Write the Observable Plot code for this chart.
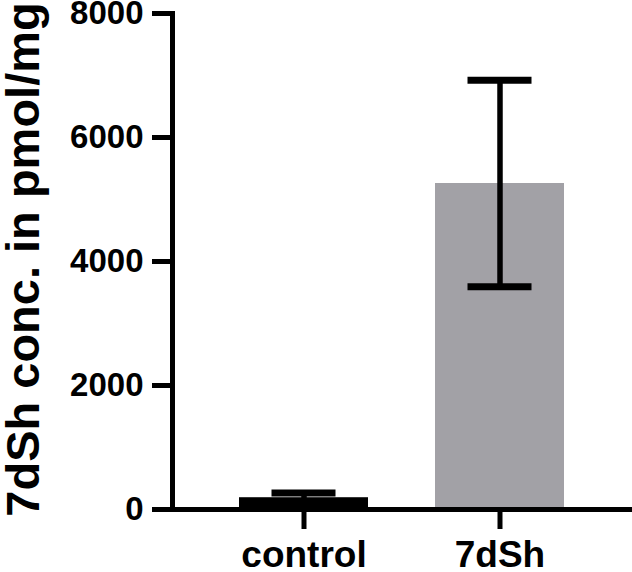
<!DOCTYPE html>
<html>
<head>
<meta charset="utf-8">
<script src="https://cdn.jsdelivr.net/npm/d3@7"></script>
<script src="https://cdn.jsdelivr.net/npm/@observablehq/plot@0.6"></script>
<style>
  html, body { margin: 0; padding: 0; background: #fff; }
  #chart svg { display: block; }
</style>
</head>
<body>
<div id="chart"></div>
<script>
const groups = ["control", "7dSh"];
const means = [190, 5258];
const errors = [76, 1665];
const yTicks = [0, 2000, 4000, 6000, 8000];
const yLabel = "7dSh conc. in pmol/mg";
const barColors = ["#000000", "#a2a1a6"];

const data = groups.map((g, i) => ({
  group: g, mean: means[i], lo: means[i] - errors[i], hi: means[i] + errors[i], color: barColors[i]
}));

const font = "'Liberation Sans', Arial, Helvetica, sans-serif";

const chart = Plot.plot({
  width: 632,
  height: 572,
  marginLeft: 172,
  marginRight: 0,
  marginTop: 13,
  marginBottom: 63,
  style: { fontFamily: font, background: "#fff", overflow: "visible" },
  x: { domain: groups, padding: 0.34, label: null },
  y: { domain: [0, 8000], ticks: yTicks, label: null },
  marks: [
    Plot.barY(data, { x: "group", y: "mean", fill: "color" }),
    Plot.ruleX(data, { x: "group", y1: "lo", y2: "hi", stroke: "#000", strokeWidth: 5.5 }),
    Plot.tickY(data, { x: "group", y: "hi", stroke: "#000", strokeWidth: 7, insetLeft: 32.5, insetRight: 32.5 }),
    Plot.tickY(data, { x: "group", y: "lo", stroke: "#000", strokeWidth: 7, insetLeft: 32.5, insetRight: 32.5 }),
    Plot.axisY({
      ticks: yTicks, tickFormat: d => String(d), tickSize: 20, tickPadding: 9,
      strokeWidth: 5, fontSize: 33, fontWeight: "bold", fill: "#000", label: null
    }),
    Plot.axisX({
      tickSize: 20, tickPadding: 11, strokeWidth: 5, fontSize: 37, fontWeight: "bold", fill: "#000", label: null
    }),
    Plot.frame({ anchor: "left", stroke: "#000", strokeWidth: 5 }),
    Plot.ruleY([0], { stroke: "#000", strokeWidth: 5 }),
    Plot.text([yLabel], {
      frameAnchor: "left", dx: -134, dy: -2, rotate: -90, text: d => d,
      textAnchor: "middle", fontSize: 47, fontWeight: "bold", fill: "#000", lineAnchor: "bottom"
    })
  ]
});

document.getElementById("chart").appendChild(chart);
</script>
</body>
</html>
